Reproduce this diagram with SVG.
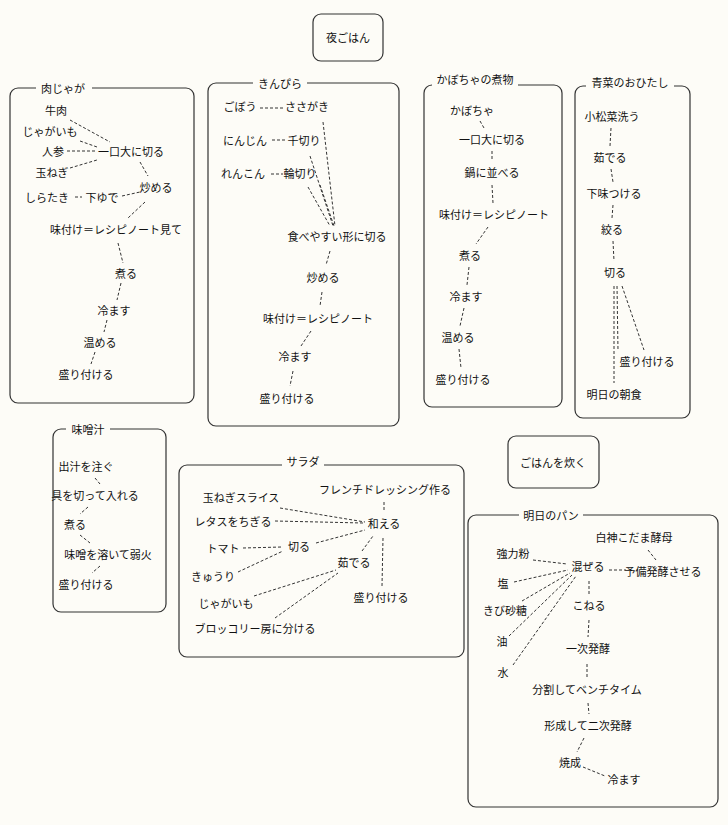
<svg xmlns="http://www.w3.org/2000/svg" width="728" height="825" viewBox="0 0 728 825">
<style>
text{font-family:"Noto Sans CJK JP","Noto Sans CJK SC",sans-serif;font-size:11px;fill:#111;text-anchor:middle;dominant-baseline:central}
.c{fill:none;stroke:#333;stroke-width:1.2}
.lb{fill:#fdfcf7}
#edges line{stroke:#333;stroke-width:1;stroke-dasharray:3,2}
</style>
<rect width="728" height="825" fill="#fdfcf7"/>
<g id="clusters">
<rect class="c" x="10" y="88" width="184" height="315" rx="8"/><rect class="lb" x="36" y="82" width="56" height="12"/><text x="63" y="88">肉じゃが</text>
<rect class="c" x="208" y="83" width="191" height="343" rx="8"/><rect class="lb" x="253" y="77" width="54" height="12"/><text x="280" y="83">きんぴら</text>
<rect class="c" x="424" y="85" width="138" height="322" rx="8"/><rect class="lb" x="432" y="79" width="86" height="12"/><text x="475" y="79">かぼちゃの煮物</text>
<rect class="c" x="575" y="86" width="115" height="332" rx="8"/><rect class="lb" x="586" y="80" width="88" height="12"/><text x="630" y="82">青菜のおひたし</text>
<rect class="c" x="53" y="429" width="113" height="183" rx="8"/><rect class="lb" x="66" y="423" width="44" height="12"/><text x="88" y="429">味噌汁</text>
<rect class="c" x="179" y="465" width="285" height="192" rx="8"/><rect class="lb" x="282" y="459" width="42" height="12"/><text x="303" y="461">サラダ</text>
<rect class="c" x="468" y="515" width="250" height="292" rx="8"/><rect class="lb" x="519" y="509" width="64" height="12"/><text x="551" y="515">明日のパン</text>
</g>
<g id="n_yoru"><rect class="c" x="313" y="14" width="70" height="47" rx="8"/><text x="348" y="37">夜ごはん</text></g>
<g id="n_gohan"><rect class="c" x="508" y="436" width="91" height="52" rx="8"/><text x="553" y="462">ごはんを炊く</text></g>
<g id="edges">
<line x1="70" y1="120" x2="110" y2="142"/><line x1="80" y1="141" x2="97" y2="147"/><line x1="67" y1="151" x2="97" y2="151"/><line x1="70" y1="168" x2="97" y2="160"/>
<line x1="140" y1="162" x2="148" y2="176"/><line x1="122" y1="196" x2="140" y2="192"/><line x1="75" y1="197" x2="82" y2="197"/><line x1="145" y1="202" x2="128" y2="218"/>
<line x1="118" y1="243" x2="123" y2="263"/><line x1="121" y1="283" x2="117" y2="300"/><line x1="107" y1="320" x2="104" y2="332"/><line x1="95" y1="352" x2="91" y2="364"/>
<line x1="260" y1="108" x2="283" y2="108"/><line x1="272" y1="140" x2="285" y2="140"/><line x1="271" y1="174" x2="283" y2="174"/>
<line x1="323" y1="122" x2="335" y2="226"/><line x1="310" y1="156" x2="333" y2="226"/><line x1="308" y1="187" x2="330" y2="226"/><line x1="320" y1="185" x2="334" y2="226"/>
<line x1="330" y1="251" x2="326" y2="265"/><line x1="322" y1="292" x2="320" y2="306"/><line x1="311" y1="331" x2="301" y2="346"/><line x1="293" y1="371" x2="290" y2="386"/>
<line x1="480" y1="121" x2="484" y2="128"/><line x1="492" y1="151" x2="492" y2="161"/><line x1="492" y1="185" x2="493" y2="203"/><line x1="488" y1="227" x2="476" y2="244"/><line x1="469" y1="267" x2="467" y2="285"/><line x1="464" y1="308" x2="460" y2="326"/><line x1="459" y1="349" x2="461" y2="368"/>
<line x1="611" y1="128" x2="610" y2="146"/><line x1="611" y1="169" x2="613" y2="182"/><line x1="613" y1="205" x2="612" y2="218"/><line x1="613" y1="241" x2="614" y2="261"/>
<line x1="622" y1="286" x2="644" y2="350"/><line x1="617" y1="286" x2="618" y2="350"/><line x1="614" y1="286" x2="614" y2="383"/>
<line x1="95" y1="478" x2="100" y2="484"/><line x1="88" y1="507" x2="80" y2="514"/><line x1="80" y1="535" x2="90" y2="543"/><line x1="100" y1="566" x2="92" y2="573"/>
<line x1="384" y1="502" x2="384" y2="511"/><line x1="280" y1="508" x2="365" y2="522"/><line x1="275" y1="521" x2="363" y2="523"/><line x1="316" y1="543" x2="365" y2="530"/>
<line x1="243" y1="548" x2="282" y2="547"/><line x1="238" y1="572" x2="283" y2="551"/><line x1="362" y1="551" x2="373" y2="536"/><line x1="383" y1="538" x2="382" y2="586"/>
<line x1="254" y1="596" x2="336" y2="570"/><line x1="275" y1="618" x2="338" y2="573"/>
<line x1="648" y1="550" x2="656" y2="560"/><line x1="609" y1="570" x2="626" y2="570"/><line x1="533" y1="560" x2="567" y2="564"/><line x1="514" y1="582" x2="568" y2="570"/>
<line x1="522" y1="601" x2="570" y2="573"/><line x1="509" y1="636" x2="572" y2="575"/><line x1="513" y1="665" x2="576" y2="576"/>
<line x1="589" y1="581" x2="589" y2="594"/><line x1="589" y1="620" x2="588" y2="637"/><line x1="587" y1="664" x2="587" y2="677"/><line x1="588" y1="703" x2="589" y2="714"/><line x1="584" y1="738" x2="577" y2="752"/><line x1="583" y1="767" x2="605" y2="776"/>
</g>
<g id="nikujaga">
<text x="56" y="110">牛肉</text><text x="50" y="131">じゃがいも</text><text x="53" y="151">人参</text><text x="131" y="151">一口大に切る</text><text x="52" y="172">玉ねぎ</text><text x="156" y="187">炒める</text><text x="47" y="197">しらたき</text><text x="102" y="197">下ゆで</text><text x="116" y="229">味付け＝レシピノート見て</text><text x="126" y="273">煮る</text><text x="114" y="310">冷ます</text><text x="100" y="342">温める</text><text x="86" y="374">盛り付ける</text>
</g>
<g id="kinpira">
<text x="240" y="106">ごぼう</text><text x="307" y="106">ささがき</text><text x="245" y="140">にんじん</text><text x="304" y="140">千切り</text><text x="243" y="173">れんこん</text><text x="300" y="173">輪切り</text><text x="337" y="236">食べやすい形に切る</text><text x="323" y="277">炒める</text><text x="318" y="318">味付け＝レシピノート</text><text x="295" y="356">冷ます</text><text x="287" y="398">盛り付ける</text>
</g>
<g id="kabocha">
<text x="472" y="110">かぼちゃ</text><text x="492" y="139">一口大に切る</text><text x="492" y="172">鍋に並べる</text><text x="494" y="214">味付け＝レシピノート</text><text x="470" y="255">煮る</text><text x="466" y="296">冷ます</text><text x="458" y="337">温める</text><text x="463" y="379">盛り付ける</text>
</g>
<g id="ohitashi">
<text x="612" y="116">小松菜洗う</text><text x="610" y="157">茹でる</text><text x="614" y="193">下味つける</text><text x="612" y="229">絞る</text><text x="615" y="272">切る</text><text x="647" y="361">盛り付ける</text><text x="614" y="394">明日の朝食</text>
</g>
<g id="misoshiru">
<text x="86" y="466">出汁を注ぐ</text><text x="95" y="495">具を切って入れる</text><text x="75" y="524">煮る</text><text x="108" y="554">味噌を溶いて弱火</text><text x="86" y="584">盛り付ける</text>
</g>
<g id="salad">
<text x="385" y="489">フレンチドレッシング作る</text><text x="241" y="497">玉ねぎスライス</text><text x="233" y="521">レタスをちぎる</text><text x="384" y="523">和える</text><text x="223" y="548">トマト</text><text x="299" y="546">切る</text><text x="354" y="562">茹でる</text><text x="213" y="576">きゅうり</text><text x="381" y="597">盛り付ける</text><text x="226" y="603">じゃがいも</text><text x="255" y="628">ブロッコリー房に分ける</text>
</g>
<g id="pan">
<text x="634" y="537">白神こだま酵母</text><text x="513" y="553">強力粉</text><text x="588" y="566">混ぜる</text><text x="663" y="571">予備発酵させる</text><text x="503" y="583">塩</text><text x="589" y="605">こねる</text><text x="505" y="610">きび砂糖</text><text x="502" y="641">油</text><text x="588" y="648">一次発酵</text><text x="503" y="672">水</text><text x="587" y="689">分割してベンチタイム</text><text x="588" y="725">形成して二次発酵</text><text x="570" y="762">焼成</text><text x="624" y="779">冷ます</text>
</g>
</svg>
